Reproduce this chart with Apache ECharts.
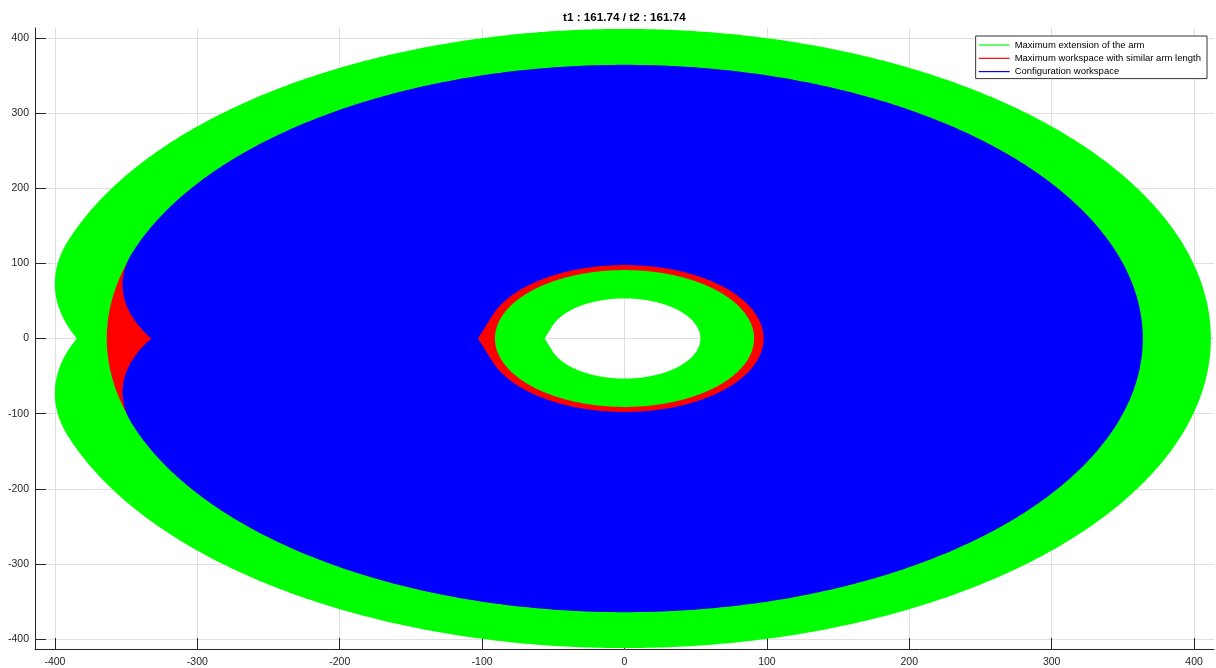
<!DOCTYPE html>
<html>
<head>
<meta charset="utf-8">
<script src="https://cdn.jsdelivr.net/npm/echarts@6/dist/echarts.min.js"></script>
<style>
  html, body { margin: 0; padding: 0; background: #fff; }
  #chart { width: 1216px; height: 668px; }
</style>
</head>
<body>
<div id="chart"></div>
<script>
// ---- chart values ----
const titleText = 't1 : 161.74 / t2 : 161.74';
const seriesNames = [
  'Maximum extension of the arm',
  'Maximum workspace with similar arm length',
  'Configuration workspace'
];
const seriesColors = ['#00ff00', '#ff0000', '#0000ff'];
const jointLimitDeg = 161.74;
// link lengths [link1, link2] bounding each outer reach
const extensionLinks = [232.6, 179.2];
const configurationLinks = [228, 136];
// inner / outer radius of the similar-length annulus
const similarRadii = [91, 363.6];
// radius of the unreachable centre of each workspace
const extensionInner = 53.3;
const configurationInner = 97.7;
// axes
const xTicks = [-400, -300, -200, -100, 0, 100, 200, 300, 400];
const yTicks = [-400, -300, -200, -100, 0, 100, 200, 300, 400];
const xRange = [-414, 414];
const yRange = [-413, 413];

const FONT = '"Liberation Sans", Arial, Helvetica, sans-serif';
const DEG = Math.PI / 180;

// points along a circular arc (degrees), in data units
function arc(cx, cy, r, a0, a1) {
  const pts = [];
  const n = Math.max(2, Math.ceil(Math.abs(a1 - a0) / 0.5));
  for (let i = 0; i <= n; i++) {
    const a = (a0 + (a1 - a0) * i / n) * DEG;
    pts.push([cx + r * Math.cos(a), cy + r * Math.sin(a)]);
  }
  return pts;
}

// outer boundary of a two-link reach with a limited base joint:
// full-stretch arc plus the two elbow lobes at the joint limits
function outerBoundary(links, lim) {
  const l1 = links[0], l2 = links[1];
  const cx = l1 * Math.cos(lim * DEG);
  const cy = l1 * Math.sin(lim * DEG);
  const tip = Math.asin(cy / l2) / DEG;
  return [].concat(
    arc(0, 0, l1 + l2, -lim, lim),
    arc(cx, cy, l2, lim, 180 + tip),
    arc(cx, -cy, l2, 180 - tip, 360 - lim)
  );
}

// inner boundary: circle over the joint range, closed by the tangent wedge
function innerBoundary(r, lim) {
  const pts = arc(0, 0, r, -lim, lim);
  pts.push([-r / Math.cos((180 - lim) * DEG), 0]);
  return pts;
}

function circle(r) { return arc(0, 0, r, 0, 360); }

// each region: outer ring, then holes wound the other way
const regions = [
  [outerBoundary(extensionLinks, jointLimitDeg), innerBoundary(extensionInner, jointLimitDeg).reverse()],
  [circle(similarRadii[1]), circle(similarRadii[0]).reverse()],
  [outerBoundary(configurationLinks, jointLimitDeg), innerBoundary(configurationInner, jointLimitDeg).reverse()]
];

function renderRegion(rings) {
  return function (params, api) {
    let d = '';
    let minX = Infinity, minY = Infinity, maxX = -Infinity, maxY = -Infinity;
    rings.forEach(function (ring) {
      ring.forEach(function (p, i) {
        const c = api.coord(p);
        const x = Math.round(c[0] * 100) / 100;
        const y = Math.round(c[1] * 100) / 100;
        if (x < minX) minX = x;
        if (x > maxX) maxX = x;
        if (y < minY) minY = y;
        if (y > maxY) maxY = y;
        d += (i === 0 ? 'M' : 'L') + x + ' ' + y;
      });
      d += 'Z';
    });
    return {
      type: 'path',
      shape: {
        pathData: d,
        x: minX, y: minY, width: maxX - minX, height: maxY - minY,
        layout: 'cover'
      },
      style: { fill: api.visual('color'), stroke: null }
    };
  };
}

const axisColor = '#262626';
const gridColor = '#dfdfdf';

const chart = echarts.init(document.getElementById('chart'), null, { renderer: 'canvas' });
chart.setOption({
  animation: false,
  backgroundColor: '#ffffff',
  title: {
    text: titleText,
    left: 563,
    top: 12,
    padding: 0,
    textStyle: { fontFamily: FONT, fontSize: 11.7, fontWeight: 'bold', color: '#000' }
  },
  legend: {
    data: seriesNames.map(function (n, i) {
      return { name: n, itemStyle: { color: seriesColors[i], borderWidth: 0 } };
    }),
    orient: 'vertical',
    right: 9,
    top: 36,
    icon: 'rect',
    itemWidth: 31,
    itemHeight: 1.2,
    itemGap: 3.3,
    padding: [4, 6, 2, 3],
    backgroundColor: '#ffffff',
    borderColor: '#333333',
    borderWidth: 1,
    selectedMode: false,
    textStyle: { fontFamily: FONT, fontSize: 9.5, color: '#000', lineHeight: 10 }
  },
  grid: { left: 35, right: 2, top: 28, bottom: 19, containLabel: false, outerBoundsMode: 'none' },
  xAxis: {
    type: 'value',
    min: xRange[0],
    max: xRange[1],
    axisLine: { show: true, onZero: false, lineStyle: { color: axisColor, width: 1 } },
    axisTick: { show: true, inside: true, length: 11, customValues: xTicks, lineStyle: { color: axisColor } },
    axisLabel: { customValues: xTicks, margin: 8, color: axisColor, fontFamily: FONT, fontSize: 10.5 },
    splitLine: { show: true, lineStyle: { color: gridColor, width: 1 } }
  },
  yAxis: {
    type: 'value',
    min: yRange[0],
    max: yRange[1],
    axisLine: { show: true, onZero: false, lineStyle: { color: axisColor, width: 1 } },
    axisTick: { show: true, inside: true, length: 11, customValues: yTicks, lineStyle: { color: axisColor } },
    axisLabel: { customValues: yTicks, margin: 6, color: axisColor, fontFamily: FONT, fontSize: 10.5 },
    splitLine: { show: true, lineStyle: { color: gridColor, width: 1 } }
  },
  series: regions.map(function (rings, i) {
    return {
      type: 'custom',
      name: seriesNames[i],
      coordinateSystem: 'cartesian2d',
      data: [[0, 0]],
      encode: { x: 0, y: 1 },
      renderItem: renderRegion(rings),
      itemStyle: { color: seriesColors[i] },
      silent: true,
      z: 2 + i
    };
  })
});
</script>
</body>
</html>
